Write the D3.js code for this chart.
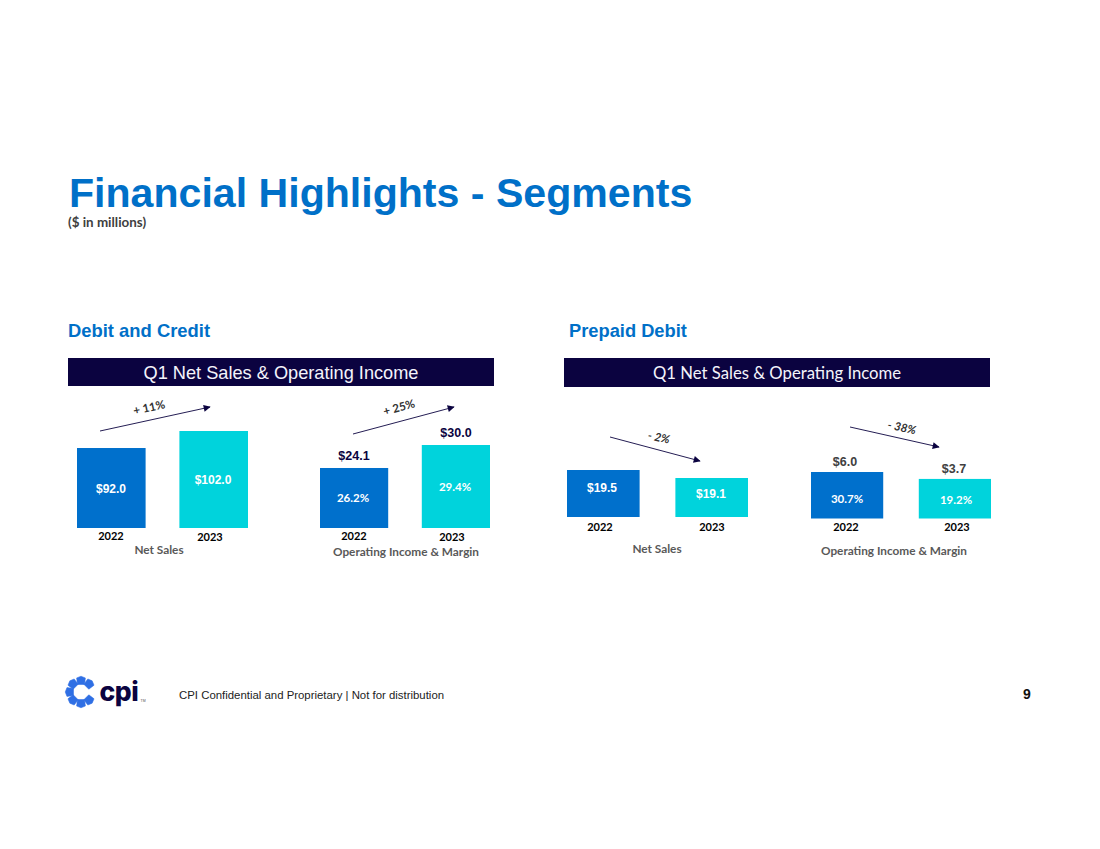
<!DOCTYPE html>
<html><head><meta charset="utf-8">
<script src="https://cdn.jsdelivr.net/npm/d3@7/dist/d3.min.js"></script>
<style>html,body{margin:0;padding:0;background:#fff;overflow:hidden}svg{display:block}</style>
</head><body><svg id="c" width="1100" height="849"></svg>
<script>
const years = ["2022", "2023"];
const netSalesDebit = [92.0, 102.0];
const opIncomeDebit = [24.1, 30.0];
const marginDebit = ["26.2%", "29.4%"];
const netSalesPrepaid = [19.5, 19.1];
const opIncomePrepaid = [6.0, 3.7];
const marginPrepaid = ["30.7%", "19.2%"];
const changes = ["+ 11%", "+ 25%", "- 2%", "- 38%"];
const captions = ["Net Sales", "Operating Income & Margin"];

const ARIAL = "'Liberation Sans',Arial,sans-serif", CAL = "Lato,Carlito,sans-serif";
const NAVY = "#0b0340", BLUE = "#0070cc", TEAL = "#00d3dc", TITLE = "#0070c8", GREY = "#595959";
const svg = d3.select("#c");
svg.append("defs").append("marker").attr("id","ah").attr("viewBox","0 0 10 10").attr("refX",9).attr("refY",5)
  .attr("markerWidth",8.5).attr("markerHeight",7).attr("markerUnits","userSpaceOnUse").attr("orient","auto")
  .append("path").attr("d","M0,0L10,5L0,10Z").attr("fill",NAVY);

function txt(s,x,y,o){
  return svg.append("text").text(s).attr("x",x).attr("y",y).attr("dominant-baseline","central")
    .attr("text-anchor",o.anchor||"middle").attr("font-family",o.font||CAL).attr("font-size",o.size)
    .attr("font-weight",o.weight||"bold").attr("fill",o.fill||"#000").attr("font-style",o.style||"normal")
    .attr("transform",o.rot?`rotate(${o.rot} ${x} ${y})`:null);
}

txt("Financial Highlights - Segments",69,193,{anchor:"start",font:ARIAL,size:41.1,fill:TITLE});
txt("($ in millions)",68,222,{anchor:"start",size:13.4,fill:"#404040"});
txt("Debit and Credit",68,330,{anchor:"start",font:ARIAL,size:18.4,fill:TITLE});
txt("Prepaid Debit",569,330,{anchor:"start",font:ARIAL,size:18.3,fill:TITLE});

[[68,494,358,386,ARIAL,18.2,281],[564,990,358,387,CAL,16.7,777]].forEach(h=>{
  svg.append("rect").attr("x",h[0]).attr("y",h[2]).attr("width",h[1]-h[0]).attr("height",h[3]-h[2]).attr("fill",NAVY);
  txt("Q1 Net Sales & Operating Income",h[6],(h[2]+h[3])/2+0.5,{font:h[4],size:h[5],weight:"normal",fill:"#f4f4fb"});
});

const panels = [
 {vals:netSalesDebit, range:[77,248], base:528, floor:45, top:431, inner:d3.format("$.1f"), innerXY:[[111,489],[213,480]],
  yearXY:[[111,535],[210,536]], cap:captions[0], capXY:[159,549], change:changes[0], arrow:[100,431,210,407], chXY:[149,407,-12]},
 {vals:opIncomeDebit, range:[320,490], base:528, floor:8.7, top:445, innerText:marginDebit, innerXY:[[353,497],[455,486]],
  yearXY:[[354,535],[452,536]], cap:captions[1], capXY:[406,551], change:changes[1], arrow:[353,434,454,407], chXY:[399,407,-15],
  above:[[354,456],[456,433]], aboveFill:NAVY},
 {vals:netSalesPrepaid, range:[567,748], base:517, floor:17.15, top:470, inner:d3.format("$.1f"), innerXY:[[602,488],[711,494]],
  yearXY:[[600,526],[712,526]], cap:captions[0], capXY:[657,548], change:changes[2], arrow:[610,437,700,461], chXY:[659,437,12]},
 {vals:opIncomePrepaid, range:[811,991], base:518.5, floor:-9.45, top:472, innerText:marginPrepaid, innerXY:[[847,498],[956,499]],
  yearXY:[[846,526],[957,526]], cap:captions[1], capXY:[894,550], change:changes[3], arrow:[850,427,939,447], chXY:[902,427,12],
  above:[[845,462],[954,469]], aboveFill:"#404040"}
];

panels.forEach(p=>{
  const x = d3.scaleBand().domain(years).range(p.range).paddingInner(0.33);
  const y = d3.scaleLinear().domain([p.floor,d3.max(p.vals)]).range([p.base,p.top]);
  svg.append("g").selectAll("rect").data(p.vals).join("rect")
    .attr("x",(d,i)=>x(years[i])).attr("width",x.bandwidth())
    .attr("y",d=>y(d)).attr("height",d=>p.base-y(d))
    .attr("fill",(d,i)=>i?TEAL:BLUE);
  p.vals.forEach((v,i)=>{
    const it = p.inner?p.inner(v):p.innerText[i];
    txt(it,p.innerXY[i][0],p.innerXY[i][1],p.inner?{font:ARIAL,size:12,fill:"#fff"}:{size:11.5,fill:"#fff"});
    txt(years[i],p.yearXY[i][0],p.yearXY[i][1],{size:11,fill:"#000"});
    if(p.above) txt(d3.format("$.1f")(v),p.above[i][0],p.above[i][1],{font:ARIAL,size:12.5,fill:p.aboveFill});
  });
  txt(p.cap,p.capXY[0],p.capXY[1],{size:11.8,fill:GREY});
  const a=p.arrow;
  svg.append("line").attr("x1",a[0]).attr("y1",a[1]).attr("x2",a[2]).attr("y2",a[3])
    .attr("stroke",NAVY).attr("stroke-width",0.9).attr("marker-end","url(#ah)");
  txt(p.change,p.chXY[0],p.chXY[1],{size:11.5,fill:"#333",rot:p.chXY[2],style:p.chXY[2]>0?"italic":"normal"});
});

// footer
const lg = svg.append("g").attr("transform","translate(81,692)");
d3.range(7).forEach(i=>{
  const ang=135+i*45;
  lg.append("path").attr("d","M-5,-4L0,-6L5,-4L4,3.4L-4,3.4Z").attr("fill","#2f6fe4")
    .attr("stroke","#2f6fe4").attr("stroke-width",0.6).attr("stroke-linejoin","round")
    .attr("transform",`rotate(${ang}) translate(0,-10.5) scale(0.88)`);
});
txt("cpi",99.5,691,{anchor:"start",font:"Inter,sans-serif",size:26.5,weight:800,fill:NAVY}).attr("letter-spacing",-0.4);
txt("TM",140.5,701,{anchor:"start",font:ARIAL,size:3.5,weight:"normal",fill:"#555"});
txt("CPI Confidential and Proprietary | Not for distribution",179,695,{anchor:"start",font:ARIAL,size:11.4,weight:"normal",fill:"#222"});
txt("9",1027,694,{font:ARIAL,size:14,fill:"#111"});
</script></body></html>
